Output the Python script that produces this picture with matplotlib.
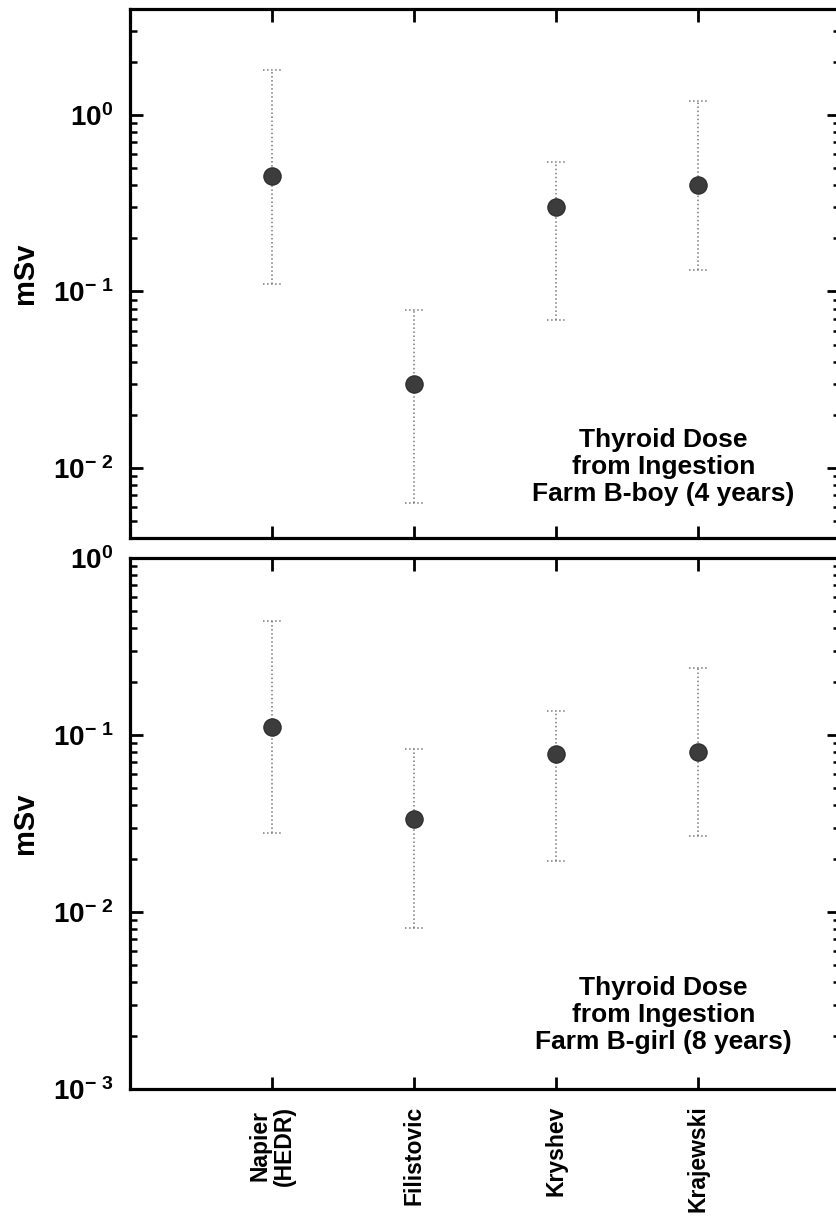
import numpy as np
import matplotlib
matplotlib.use("Agg")
import matplotlib.pyplot as plt
from matplotlib.ticker import LogLocator, FuncFormatter, NullFormatter

plt.rcParams['font.family'] = ['Liberation Sans', 'DejaVu Sans']
plt.rcParams['font.weight'] = 'bold'
plt.rcParams['mathtext.fontset'] = 'custom'
plt.rcParams['mathtext.rm'] = 'Liberation Sans:bold'
plt.rcParams['mathtext.bf'] = 'Liberation Sans:bold'

models = ["Napier\n(HEDR)", "Filistovic", "Kryshev", "Krajewski"]
x_pos = np.arange(1, len(models) + 1)

# thyroid dose, farm B boy (4 years), mSv
boy_central = [0.45, 0.030, 0.30, 0.40]
boy_lower = [0.11, 0.0063, 0.069, 0.133]
boy_upper = [1.8, 0.078, 0.54, 1.2]

# thyroid dose, farm B girl (8 years), mSv
girl_central = [0.111, 0.0334, 0.078, 0.080]
girl_lower = [0.028, 0.0081, 0.0195, 0.0268]
girl_upper = [0.44, 0.083, 0.137, 0.24]

panel_titles = ["Thyroid Dose\nfrom Ingestion\nFarm B-boy (4 years)",
                "Thyroid Dose\nfrom Ingestion\nFarm B-girl (8 years)"]


def sci_label(v, pos):
    e = int(round(np.log10(v)))
    if e < 0:
        return r'$\mathbf{10^{-\;%d}}$' % (-e)
    return r'$\mathbf{10^{%d}}$' % e


def draw_panel(ax, central, lower, upper, ylim, title, text_y):
    ax.set_yscale('log')
    ax.set_xlim(0, 5)
    ax.set_ylim(*ylim)

    # dotted whiskers with dotted caps
    ax.vlines(x_pos, lower, upper, colors='#7a7a7a', linestyles=':', linewidth=1.1, zorder=2)
    cap = 0.065
    ax.hlines(lower, x_pos - cap, x_pos + cap, colors='#7a7a7a', linestyles=':', linewidth=1.1, zorder=2)
    ax.hlines(upper, x_pos - cap, x_pos + cap, colors='#7a7a7a', linestyles=':', linewidth=1.1, zorder=2)
    ax.plot(x_pos, central, 'o', color='#3c3c3c', markersize=12.5,
            markeredgecolor='#2a2a2a', markeredgewidth=0.8, zorder=3)

    for s in ax.spines.values():
        s.set_linewidth(2.3)

    ax.yaxis.set_major_locator(LogLocator(base=10, numticks=10))
    ax.yaxis.set_minor_locator(LogLocator(base=10, subs=np.arange(2, 10), numticks=10))
    ax.yaxis.set_major_formatter(FuncFormatter(sci_label))
    ax.yaxis.set_minor_formatter(NullFormatter())
    ax.tick_params(axis='y', which='major', direction='in', length=9.5, width=2.0,
                   right=True, labelsize=20, pad=12)
    ax.tick_params(axis='y', which='minor', direction='in', length=5, width=1.8, right=True)
    ax.set_xticks(x_pos)
    ax.tick_params(axis='x', which='major', direction='in', length=9, width=2.0, top=True)
    ax.tick_params(axis='x', which='minor', bottom=False, top=False)

    ax.set_ylabel('mSv', fontsize=21, fontweight='bold')
    ax.yaxis.set_label_coords(-0.128, 0.5)

    ax.text(0.751, text_y, title, transform=ax.transAxes, ha='center', va='center',
            fontsize=19, fontweight='bold', linespacing=1.17)


fig = plt.figure(figsize=(8.37, 12.21), dpi=100)
ax_top = fig.add_axes([0.1553, 0.5594, 0.8483, 0.4333])
ax_bot = fig.add_axes([0.1553, 0.1081, 0.8483, 0.4349])

draw_panel(ax_top, boy_central, boy_lower, boy_upper, (0.004, 4), panel_titles[0], 0.134)
draw_panel(ax_bot, girl_central, girl_lower, girl_upper, (1e-3, 1), panel_titles[1], 0.139)

ax_top.set_xticklabels([])
ax_bot.set_xticklabels(models, rotation=90, fontsize=16.5, fontweight='bold',
                       va='top', ha='center')
for lbl in ax_bot.get_xticklabels():
    lbl.set_linespacing(1.05)
ax_bot.tick_params(axis='x', pad=12)

fig.savefig('out.png', dpi=100)
